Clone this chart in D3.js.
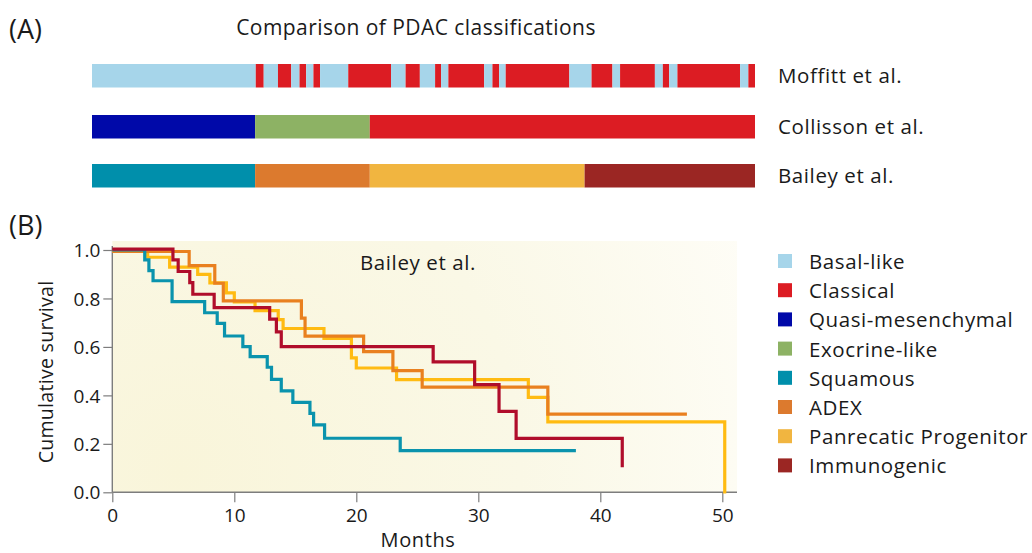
<!DOCTYPE html>
<html>
<head>
<meta charset="utf-8">
<script src="https://cdn.jsdelivr.net/npm/d3@7"></script>
<style>
  html, body { margin: 0; padding: 0; background: #fff; }
  svg { display: block; }
  text { font-family: "Open Sans", Lato, sans-serif; fill: #1a1a1a; }
  .lbl { font-size: 20.5px; letter-spacing: 0.6px; }
</style>
</head>
<body>
<svg id="chart" width="1032" height="553"></svg>
<script>
// ---- Subtypes (legend order) ----
const subtypes = ["Basal-like", "Classical", "Quasi-mesenchymal", "Exocrine-like",
                  "Squamous", "ADEX", "Panrecatic Progenitor", "Immunogenic"];

// ---- Classification strips: breakpoints in % of cohort, and subtype per segment ----
const classifications = ["Moffitt et al.", "Collisson et al.", "Bailey et al."];

const moffittBreaks = [0, 24.7, 25.9, 28.05, 30.05, 31.3, 32.3, 33.4, 34.4, 38.65, 45.1,
                       47.3, 49.45, 51.75, 52.65, 53.75, 59.15, 60.4, 61.4, 62.4, 72.0,
                       75.35, 78.5, 79.65, 84.9, 86.1, 87.05, 88.3, 97.75, 99.0, 100];
const moffittTypes = ["Basal-like", "Classical", "Basal-like", "Classical", "Basal-like",
                      "Classical", "Basal-like", "Classical", "Basal-like", "Classical",
                      "Basal-like", "Classical", "Basal-like", "Classical", "Basal-like",
                      "Classical", "Basal-like", "Classical", "Basal-like", "Classical",
                      "Basal-like", "Classical", "Basal-like", "Classical", "Basal-like",
                      "Classical", "Basal-like", "Classical", "Basal-like", "Classical"];

const collissonBreaks = [0, 24.6, 41.9, 100];
const collissonTypes = ["Quasi-mesenchymal", "Exocrine-like", "Classical"];

const baileyBreaks = [0, 24.6, 41.9, 74.3, 100];
const baileyTypes = ["Squamous", "ADEX", "Panrecatic Progenitor", "Immunogenic"];

// ---- Kaplan-Meier curves (Bailey subtypes): event times (months) and survival after each step ----
const squamousTimes = [2.66, 3.0, 3.34, 4.9, 7.57, 8.6, 9.2, 10.7, 11.3, 12.7, 13.05, 13.85, 14.8, 16.2, 16.5, 17.4, 23.6];
const squamousSurv  = [0.959, 0.915, 0.873, 0.787, 0.741, 0.697, 0.645, 0.601, 0.560, 0.516, 0.466, 0.419, 0.371, 0.326, 0.278, 0.223, 0.172];
const squamousEnd = 38.0;

const adexTimes = [6.3, 8.4, 9.1, 15.5, 15.8, 20.6, 23.0, 25.4, 35.7];
const adexSurv  = [0.942, 0.869, 0.796, 0.725, 0.651, 0.587, 0.508, 0.440, 0.329];
const adexEnd = 47.1;

const progenitorTimes = [2.9, 4.7, 7.0, 8.0, 9.35, 10.0, 11.7, 13.6, 14.0, 17.35, 19.6, 20.0, 23.3, 34.1, 35.7, 50.2];
const progenitorSurv  = [0.975, 0.934, 0.904, 0.869, 0.828, 0.791, 0.755, 0.718, 0.681, 0.640, 0.560, 0.518, 0.470, 0.397, 0.296, 0.0];
const progenitorEnd = 50.2;

const immunoTimes = [4.97, 5.4, 6.35, 6.6, 8.35, 12.9, 13.45, 13.85, 26.3, 29.7, 31.7, 33.1, 41.8];
const immunoSurv  = [0.956, 0.908, 0.862, 0.814, 0.759, 0.711, 0.659, 0.598, 0.535, 0.441, 0.331, 0.219, 0.10];
const immunoEnd = 41.8;

const xTicks = [0, 10, 20, 30, 40, 50];
const yTicks = [0, 0.2, 0.4, 0.6, 0.8, 1.0];

// ---- Styling ----
const stripColor = d3.scaleOrdinal()
  .domain(subtypes)
  .range(["#a6d5ea", "#dc1c23", "#0009a9", "#8db264", "#008fab", "#dc7a2e", "#f1b540", "#9b2623"]);

const curveColor = {
  "Squamous": "#0a93ad",
  "ADEX": "#e9801f",
  "Panrecatic Progenitor": "#ffbb12",
  "Immunogenic": "#b00d2b"
};

const svg = d3.select("#chart");

// ---- Panel labels and header ----
svg.append("text").attr("x", 9).attr("y", 39).style("font-size", "27px").text("(A)");
svg.append("text").attr("x", 9).attr("y", 235).style("font-size", "27px").text("(B)");
svg.append("text").attr("x", 416).attr("y", 35).attr("text-anchor", "middle")
  .style("font-size", "21px").style("letter-spacing", "0.45px")
  .text("Comparison of PDAC classifications");

// ---- Classification strips ----
const stripX = d3.scaleLinear().domain([0, 100]).range([92, 755]);
const stripTop = [64, 115, 164];
const stripH = 23.5;

const strips = [
  { name: classifications[0], breaks: moffittBreaks, types: moffittTypes },
  { name: classifications[1], breaks: collissonBreaks, types: collissonTypes },
  { name: classifications[2], breaks: baileyBreaks, types: baileyTypes }
];

strips.forEach((s, i) => {
  const g = svg.append("g");
  const segs = s.types.map((t, k) => ({ type: t, from: s.breaks[k], to: s.breaks[k + 1] }));
  g.selectAll("rect").data(segs).join("rect")
    .attr("x", d => stripX(d.from))
    .attr("y", stripTop[i])
    .attr("width", d => stripX(d.to) - stripX(d.from))
    .attr("height", stripH)
    .attr("fill", d => stripColor(d.type));
  svg.append("text").attr("class", "lbl")
    .attr("x", 778).attr("y", stripTop[i] + stripH / 2 + 7)
    .text(s.name);
});

// ---- Survival plot ----
const x = d3.scaleLinear().domain([0, 51]).range([112.3, 734.5]);
const y = d3.scaleLinear().domain([0, 1]).range([492.3, 250]);

const defs = svg.append("defs");
const grad = defs.append("radialGradient").attr("id", "bg")
  .attr("gradientUnits", "userSpaceOnUse")
  .attr("cx", 180).attr("cy", 470).attr("r", 620);
grad.append("stop").attr("offset", "0%").attr("stop-color", "#f9f5da");
grad.append("stop").attr("offset", "55%").attr("stop-color", "#faf8e6");
grad.append("stop").attr("offset", "100%").attr("stop-color", "#fefdf7");

svg.append("rect")
  .attr("x", x(0)).attr("y", 241)
  .attr("width", 737 - x(0)).attr("height", y(0) - 241)
  .attr("fill", "url(#bg)");

// axes
const axisColor = "#7d7d7d";
const yAxis = svg.append("g").attr("transform", `translate(${x(0)},0)`)
  .call(d3.axisLeft(y).tickValues(yTicks).tickFormat(d3.format(".1f")).tickSize(9).tickSizeOuter(0));
const xAxis = svg.append("g").attr("transform", `translate(0,${y(0)})`)
  .call(d3.axisBottom(x).tickValues(xTicks).tickFormat(d3.format("d")).tickSize(10).tickSizeOuter(0));

[yAxis, xAxis].forEach(a => {
  a.select(".domain").remove();
  a.selectAll(".tick line").attr("stroke", axisColor).attr("stroke-width", 1.2);
  a.selectAll(".tick text").attr("fill", "#333").style("font-size", "19px")
    .style("font-family", "'Open Sans', Lato, sans-serif");
});
yAxis.selectAll(".tick text").attr("x", -12).attr("dy", "0.35em");
xAxis.selectAll(".tick text").attr("y", 16);

svg.append("line").attr("x1", x(0)).attr("x2", x(0)).attr("y1", 246).attr("y2", y(0))
  .attr("stroke", axisColor).attr("stroke-width", 1.4);
svg.append("line").attr("x1", x(0)).attr("x2", 737).attr("y1", y(0)).attr("y2", y(0))
  .attr("stroke", axisColor).attr("stroke-width", 1.4);

svg.append("text").attr("transform", "translate(53,372) rotate(-90)")
  .attr("text-anchor", "middle").style("font-size", "19.5px").style("letter-spacing", "0.3px")
  .attr("fill", "#333").text("Cumulative survival");
svg.append("text").attr("x", 418).attr("y", 547).attr("text-anchor", "middle")
  .style("font-size", "20px").style("letter-spacing", "0.6px")
  .attr("fill", "#333").text("Months");

svg.append("text").attr("class", "lbl").attr("x", 418).attr("y", 270).attr("text-anchor", "middle")
  .text("Bailey et al.");

// step curves
const curves = [
  { type: "Panrecatic Progenitor", times: progenitorTimes, surv: progenitorSurv, end: progenitorEnd, dy: 1.2 },
  { type: "ADEX", times: adexTimes, surv: adexSurv, end: adexEnd, dy: 1.5 },
  { type: "Squamous", times: squamousTimes, surv: squamousSurv, end: squamousEnd, dy: 0 },
  { type: "Immunogenic", times: immunoTimes, surv: immunoSurv, end: immunoEnd, dy: -0.8 }
];

const step = d3.line().x(d => x(d[0])).y(d => y(d[1])).curve(d3.curveStepAfter);

curves.forEach(c => {
  const pts = [[0, 1]].concat(c.times.map((t, i) => [t, c.surv[i]]));
  const last = pts[pts.length - 1];
  if (c.end > last[0]) pts.push([c.end, last[1]]);
  svg.append("path")
    .attr("d", step(pts))
    .attr("transform", `translate(0,${c.dy})`)
    .attr("fill", "none")
    .attr("stroke", curveColor[c.type])
    .attr("stroke-width", 3.2);
});

// ---- Legend ----
const legend = svg.append("g").attr("transform", "translate(778,254)");
const item = legend.selectAll("g").data(subtypes).join("g")
  .attr("transform", (d, i) => `translate(0,${i * 29.2})`);
item.append("rect").attr("width", 14).attr("height", 14).attr("fill", d => stripColor(d));
item.append("text").attr("class", "lbl").attr("x", 31).attr("y", 15).text(d => d);
</script>
</body>
</html>
